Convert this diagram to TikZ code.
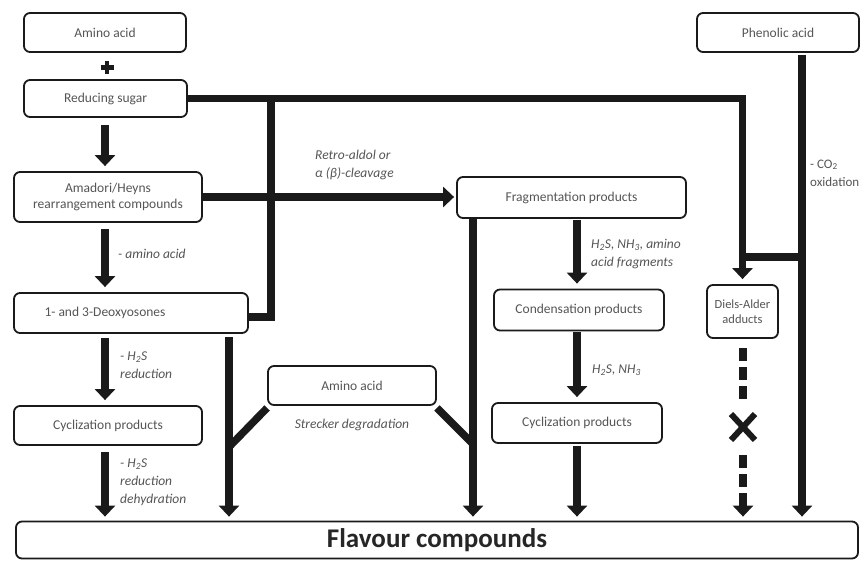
\documentclass[tikz,border=0pt]{standalone}
\usepackage{fontspec}
\setmainfont{Carlito}
\usetikzlibrary{arrows.meta,calc}
\definecolor{txtgray}{HTML}{555555}
\definecolor{linek}{HTML}{1A1A1A}
\begin{document}
\begin{tikzpicture}[x=1pt,y=-1pt,
  boxs/.style={draw=linek, line width=1.8pt, rounded corners=6pt, inner sep=0pt, text=txtgray, font=\fontsize{13.5}{16}\selectfont, align=center},
  lab/.style={text=txtgray, font=\fontsize{13.5}{18}\selectfont\itshape, align=left, anchor=west, inner sep=0pt},
  conn/.style={draw=linek, line width=7.5pt},
  arr/.style={conn, -{Triangle[width=20pt,length=11pt]}},
]
\useasboundingbox[fill=white] (0,0) rectangle (866,560);

% boxes
\node[boxs, minimum width=162pt, minimum height=39pt] (aa1) at (105,32.5) {Amino acid};
\node[boxs, minimum width=163pt, minimum height=37pt] (rs) at (105.5,98.5) {Reducing sugar};
\node[boxs, minimum width=188pt, minimum height=50pt] (ama) at (108,197) {Amadori/Heyns\\rearrangement compounds};
\node[boxs, minimum width=234pt, minimum height=40pt] (deo) at (131,313) {};
\node[text=txtgray, font=\fontsize{13.5}{16}\selectfont, inner sep=0pt] (deot) at (105,313) {1- and 3-Deoxyosones};
\node[boxs, minimum width=188pt, minimum height=39pt] (cyc1) at (108,425.5) {Cyclization products};
\node[boxs, minimum width=168pt, minimum height=39pt] (aa2) at (352,385.5) {Amino acid};
\node[boxs, minimum width=229pt, minimum height=41pt] (frag) at (571.5,197.5) {Fragmentation products};
\node[boxs, minimum width=170pt, minimum height=41pt] (cond) at (579,310) {Condensation products};
\node[boxs, minimum width=170pt, minimum height=40pt] (cyc2) at (577,423) {Cyclization products};
\node[boxs, minimum width=71pt, minimum height=53pt, font=\fontsize{12.5}{15}\selectfont] (da) at (742.5,311.5) {Diels-Alder\\adducts};
\node[boxs, minimum width=162pt, minimum height=39pt] (pa) at (778,32.5) {Phenolic acid};
\node[boxs, minimum width=842pt, minimum height=37pt, text=black!85, font=\fontsize{27}{30}\selectfont\bfseries] (flav) at (437,540) {Flavour compounds};

% helper coordinates
\coordinate (xL) at (105,0);
\coordinate (xD) at (229,0);
\coordinate (xV) at (271,0);
\coordinate (xF) at (473,0);
\coordinate (xC) at (577,0);
\coordinate (xA) at (743,0);
\coordinate (xP) at (802,0);
\coordinate (yH) at (0,257);
\coordinate (yB) at (0,317);
\coordinate (jL) at (229,447);
\coordinate (jR) at (473,444);
\coordinate (dT1) at (743,348);
\coordinate (dT2) at (743,399);
\coordinate (dB1) at (743,455);

% plus sign
\draw[line width=4.5pt, linek] (100.5,67.5) -- (113.5,67.5) (107,61) -- (107,74);

% left column
\draw[arr, shorten <=7pt, shorten >=5pt] (rs.south -| xL) -- (ama.north -| xL);
\draw[arr, shorten <=6pt, shorten >=5pt] (ama.south -| xL) -- (deo.north -| xL);
\draw[arr, shorten <=4pt, shorten >=5pt] (deo.south -| xL) -- (cyc1.north -| xL);
\draw[arr, shorten <=6pt, shorten >=4pt] (cyc1.south -| xL) -- (flav.north -| xL);
\draw[arr, shorten <=3pt, shorten >=4pt] (deo.south -| xD) -- (flav.north -| xD);
\draw[conn] ($(aa2.south west)+(0,2)$) -- (jL);
\draw[conn] ($(aa2.south east)+(0,2)$) -- (jR);

% reducing sugar lines
\draw[arr, line join=miter, shorten >=5pt] (rs.east) -| (da.north);
\draw[conn, line join=miter] (rs.east -| xV) -- (yB -| xV) -- (yB -| deo.east);

% fragmentation
\draw[arr, shorten >=2pt] (ama.east) -- (ama.east -| frag.west);
\draw[arr, shorten >=4pt] (frag.south -| xF) -- (flav.north -| xF);
\draw[arr, shorten <=1pt, shorten >=5pt] (frag.south -| xC) -- (cond.north -| xC);
\draw[arr, shorten <=1pt, shorten >=5pt] (cond.south -| xC) -- (cyc2.north -| xC);
\draw[arr, shorten <=2pt, shorten >=4pt] (cyc2.south -| xC) -- (flav.north -| xC);

% Diels-Alder dashed
\draw[conn, dash pattern=on 13pt off 6pt] (dT1) -- (dT2);
\draw[arr, dash pattern=on 13pt off 6pt, shorten >=4pt] (dB1) -- (flav.north -| xA);
\draw[line width=6pt, linek] (731,414) -- (755,440) (731,440) -- (755,414);

% phenolic acid
\draw[arr, shorten <=2pt, shorten >=4pt] (pa.south -| xP) -- (flav.north -| xP);
\draw[conn] (yH -| xP) -- (yH -| xA);

% labels
\node[lab] (retro) at (315,165) {Retro-aldol or\\α (β)-cleavage};
\node[lab] (l1) at (118,254) {- amino acid};
\node[lab] (l2) at (120,365) {- H\textsubscript{2}S\\reduction};
\node[lab] (l3) at (120,482) {- H\textsubscript{2}S\\reduction\\dehydration};
\node[lab] (l4) at (591,254) {H\textsubscript{2}S, NH\textsubscript{3}, amino\\acid fragments};
\node[lab] (l5) at (592,370) {H\textsubscript{2}S, NH\textsubscript{3}};
\node[lab, font=\fontsize{13}{18}\selectfont] (co2) at (810,173) {- CO\textsubscript{2}\\oxidation};
\node[text=txtgray, font=\fontsize{13.5}{16}\selectfont\itshape, inner sep=0pt] (str) at (352,425) {Strecker degradation};
\end{tikzpicture}
\end{document}
